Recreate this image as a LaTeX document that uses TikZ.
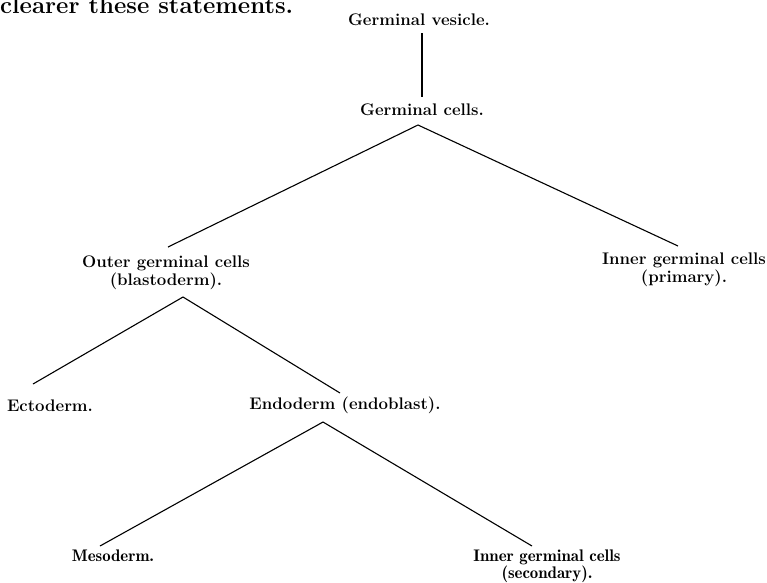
\documentclass[tikz,border=0pt]{standalone}
\begin{document}
\begin{tikzpicture}[x=1pt,y=-1pt,
  lbl/.style={inner sep=0pt, font=\fontsize{16.8}{18}\selectfont\bfseries, align=center},
  lt/.style={inner sep=0pt, font=\fontsize{16.8}{17.5}\selectfont\fontseries{b}\selectfont, align=center},
  ln/.style={line width=1.1pt}]
\useasboundingbox (0,0) rectangle (767,582);
\fill[white] (0,0) rectangle (767,582);
% cut-off text at the top
\node[inner sep=0pt, anchor=base west, font=\fontsize{24}{26}\selectfont\bfseries] (hdr) at (0,13) {clearer these statements.};
% labels
\node[lbl] (gv) at (419,20) {Germinal vesicle.};
\node[lbl] (gc) at (422,110) {Germinal cells.};
\node[lbl] (ogc) at (166,273) {Outer germinal cells\\(blastoderm).};
\node[lbl] (igp) at (684,270) {Inner germinal cells\\(primary).};
\node[lbl] (ect) at (50,406) {Ectoderm.};
\node[lbl] (end) at (345,405) {Endoderm (endoblast).};
\node[lt] (mes) at (113,556) {Mesoderm.};
\node[lt] (igs) at (547,566) {Inner germinal cells\\(secondary).};
% connector end points
\coordinate (gvB) at (422,33);
\coordinate (gcT) at (422,97);
\coordinate (gcB) at (418,125);
\coordinate (ogcT) at (168,247);
\coordinate (igpT) at (678,246);
\coordinate (ogcB) at (183,297);
\coordinate (ectT) at (33,384);
\coordinate (endT) at (340,393);
\coordinate (endB) at (323,422);
\coordinate (mesT) at (100,546);
\coordinate (igsT) at (532,546);
% connectors
\draw[ln] (gvB) -- (gcT);
\draw[ln] (ogcT) -- (gcB) -- (igpT);
\draw[ln] (ectT) -- (ogcB) -- (endT);
\draw[ln] (mesT) -- (endB) -- (igsT);
\end{tikzpicture}
\end{document}
